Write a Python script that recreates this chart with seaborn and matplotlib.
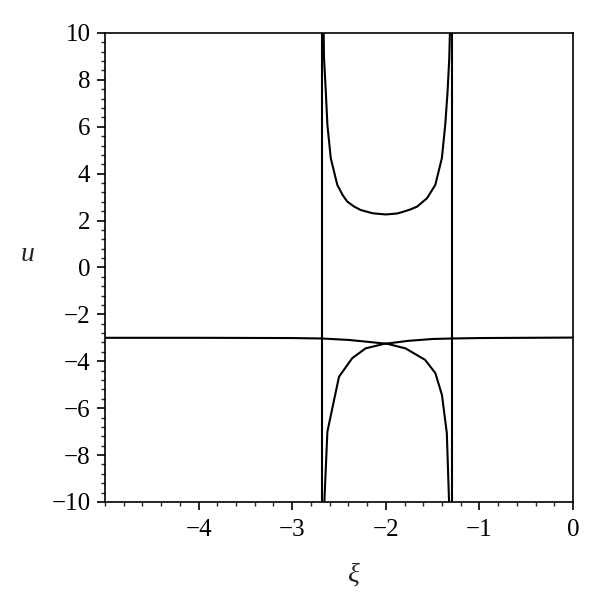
import matplotlib
matplotlib.use("Agg")
import matplotlib.pyplot as plt
from matplotlib.ticker import MultipleLocator
import seaborn as sns
import pandas as pd

# ---- data ----
upper_xi = [-2.666, -2.660, -2.641, -2.624, -2.588, -2.518, -2.46, -2.412, -2.34, -2.269, -2.14, -2.00,
            -1.88, -1.809, -1.74, -1.667, -1.56, -1.471, -1.401, -1.365, -1.340, -1.322, -1.312]
upper_u  = [10.5, 8.92, 7.50, 6.08, 4.66, 3.52, 3.08, 2.81, 2.60, 2.45, 2.31, 2.26,
            2.30, 2.38, 2.47, 2.59, 2.95, 3.52, 4.66, 6.08, 7.50, 8.92, 10.5]

lower_xi = [-2.662, -2.624, -2.50, -2.359, -2.216, -2.00, -1.79, -1.58, -1.47, -1.40, -1.348, -1.320]
lower_u  = [-10.5, -7.0, -4.66, -3.87, -3.45, -3.24, -3.45, -3.94, -4.51, -5.44, -7.07, -10.5]

flat_xi = [-5.0, -4.0, -3.0, -2.68, -2.4, -2.22, -2.0, -1.76, -1.5, -1.3, -1.0, 0.0]
flat_u  = [-3.0, -3.0, -3.01, -3.03, -3.09, -3.16, -3.25, -3.13, -3.05, -3.03, -3.01, -2.99]

asym_left_xi = [-2.686, -2.686]
asym_left_u = [-10.5, 10.5]
asym_right_xi = [-1.294, -1.294]
asym_right_u = [-10.5, 10.5]

x_ticks = [-4, -3, -2, -1, 0]
y_ticks = [-10, -8, -6, -4, -2, 0, 2, 4, 6, 8, 10]

frames = []
for name, xs, us in [("upper", upper_xi, upper_u), ("lower", lower_xi, lower_u),
                     ("flat", flat_xi, flat_u), ("asl", asym_left_xi, asym_left_u),
                     ("asr", asym_right_xi, asym_right_u)]:
    frames.append(pd.DataFrame({"xi": xs, "u": us, "branch": name}))
df = pd.concat(frames, ignore_index=True)

sns.set_theme(style="ticks")
plt.rcParams["font.family"] = ["Liberation Serif", "DejaVu Serif"]

fig = plt.figure(figsize=(6.0, 5.99), dpi=100)
ax = fig.add_axes([0.175, 0.162, 0.78, 0.783])

sns.lineplot(data=df, x="xi", y="u", units="branch", estimator=None, sort=False,
             color="black", linewidth=1.5, ax=ax, legend=False)

ax.set_xlim(-5, 0)
ax.set_ylim(-10, 10)
ax.set_xticks(x_ticks)
ax.set_yticks(y_ticks)
ax.set_xticklabels([f"\u2212{abs(t)}" if t < 0 else f"{t}" for t in x_ticks])
ax.set_yticklabels([f"\u2212{abs(t)}" if t < 0 else f"{t}" for t in y_ticks])
ax.xaxis.set_minor_locator(MultipleLocator(0.2))
ax.yaxis.set_minor_locator(MultipleLocator(0.4))
ax.tick_params(which="major", direction="out", length=5.5, width=1.2, labelsize=18,
               pad=5, colors="black", top=False, right=False)
ax.tick_params(which="minor", direction="out", length=3, width=1.0, top=False, right=False)
ax.tick_params(axis="x", which="major", pad=7)
for s in ax.spines.values():
    s.set_visible(True)
    s.set_color("black")
    s.set_linewidth(1.2)

ax.set_xlabel("ξ", fontsize=20, style="italic")
ax.set_ylabel("u", fontsize=20, style="italic", rotation=0)
ax.xaxis.set_label_coords(0.53, -0.13)
ax.yaxis.set_label_coords(-0.165, 0.5)

fig.savefig("out.png", dpi=100)
